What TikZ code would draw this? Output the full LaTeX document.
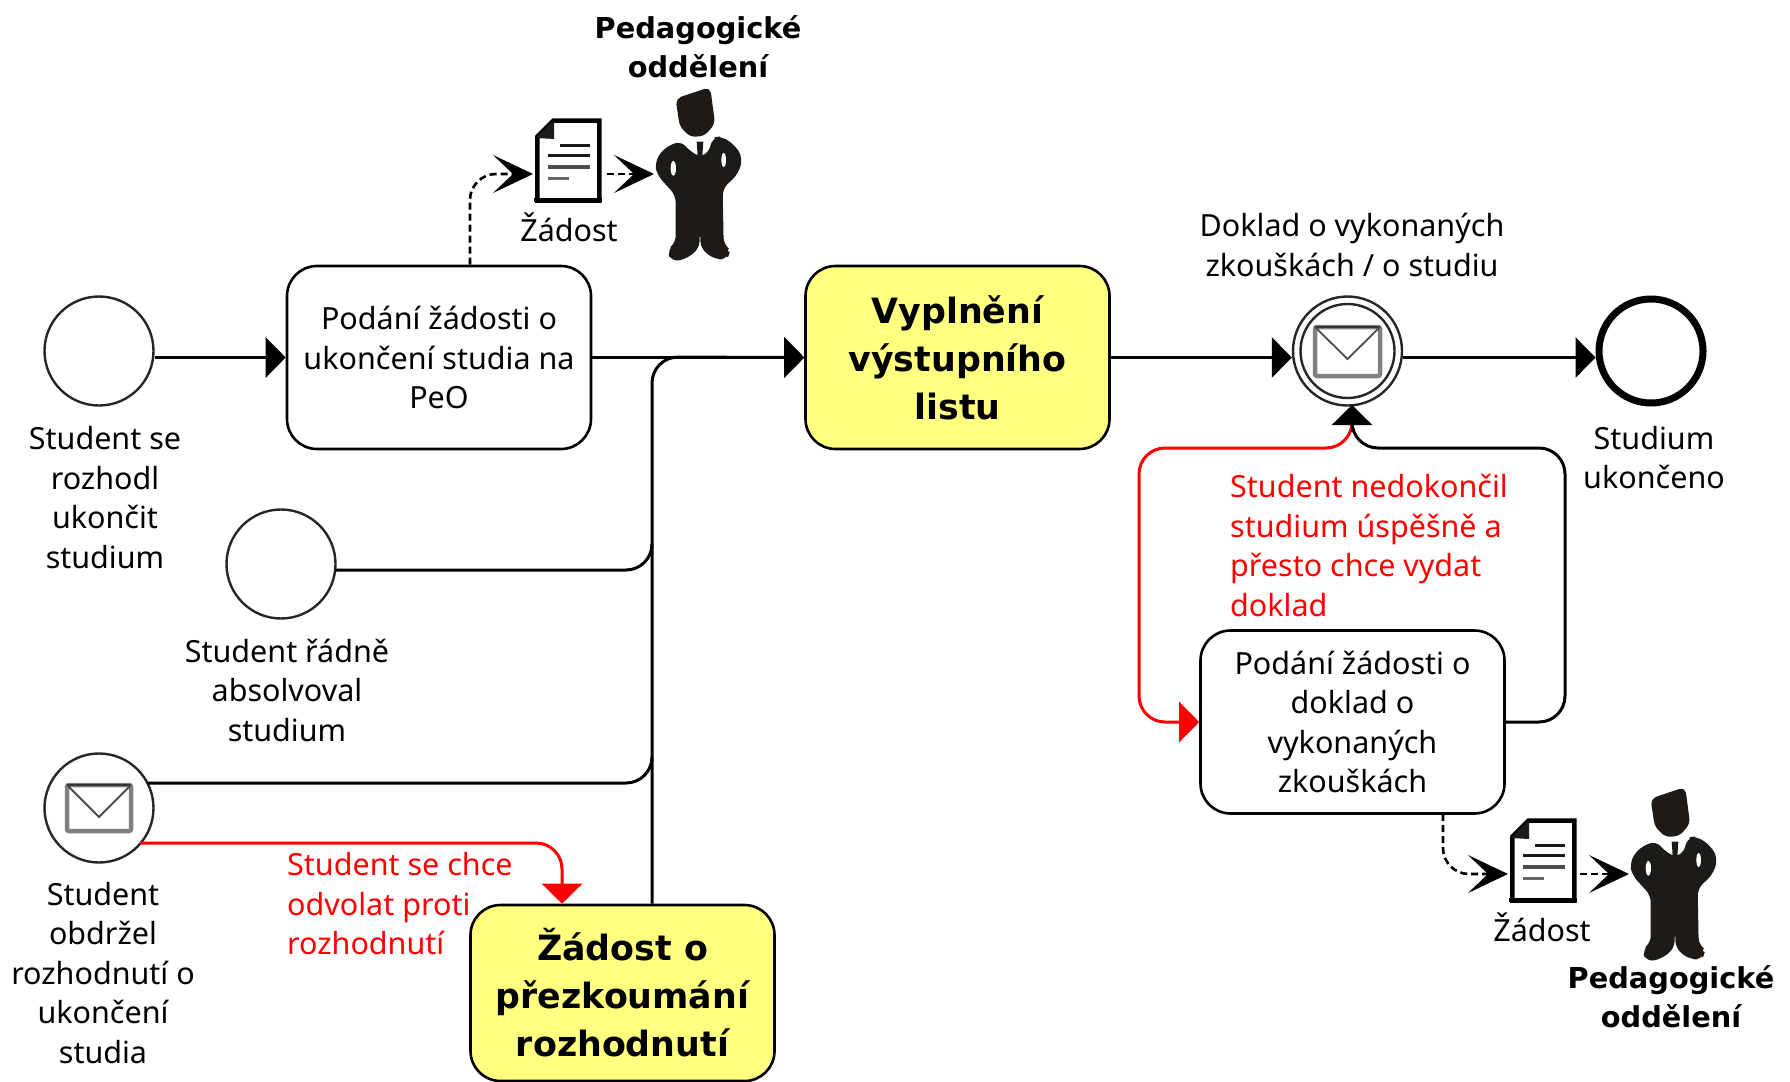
\documentclass[tikz,border=0pt]{standalone}
\usepackage{fontspec}
\setmainfont{Noto Sans}
\newfontfamily\headfont{DejaVu Sans}
\usetikzlibrary{arrows.meta,calc}
\definecolor{iconblack}{HTML}{1E1A17}
\definecolor{taskyellow}{HTML}{FFFF80}
\tikzset{
  x=1pt,y=-1pt,
  lbl/.style={inner sep=0pt,align=center,font=\fontsize{30.5}{39.5}\selectfont},
  redlbl/.style={inner sep=0pt,align=left,text=red,anchor=west,font=\fontsize{30.5}{39.5}\selectfont},
  boldlbl/.style={inner sep=0pt,align=center,font=\headfont\bfseries\fontsize{28.8}{39.5}\selectfont},
  task/.style={draw=black,line width=2.6pt,rounded corners=30pt,minimum width=304pt,minimum height=183pt,inner sep=0pt,align=center,font=\fontsize{30.5}{39.5}\selectfont,fill=white},
  calltask/.style={task,fill=taskyellow,font=\headfont\bfseries\fontsize{34.8}{48}\selectfont},
  event/.style={circle,draw=black!85,line width=2.4pt,minimum size=109pt,inner sep=0pt,fill=white},
  box/.style={inner sep=0pt,minimum width=#1,draw=none},
  flow/.style={draw=black,line width=3pt,rounded corners=26pt},
  redflow/.style={draw=red,line width=3pt,rounded corners=26pt},
  tipb/.style={-{Triangle[length=20pt,width=40pt,fill=black]}},
  tipr/.style={-{Triangle[length=20pt,width=40pt,fill=red,color=red]}},
  assoc/.style={draw=black,line width=2.6pt,dash pattern=on 7pt off 4pt,rounded corners=26pt,
     -{Stealth[length=40pt,width=38pt,inset=20pt,fill=black]}},
  env/.style={draw=black!50,line width=4.5pt,rounded corners=2pt,fill=white},
  envtop/.style={draw=black!80,line width=2.4pt},
}
\newcommand{\personicon}[2]{%
 \begin{scope}[shift={(#1,#2)},scale=1/3]
  \filldraw[iconblack,line width=2pt,rounded corners=5pt] (680,298) -- (778,265) -- (792,370) -- (762,405) -- (722,408) -- (692,378) -- cycle;
  \filldraw[iconblack,line width=2pt,rounded corners=7pt] (690,425) -- (725,462) -- (750,472) -- (778,462) -- (790,415) -- (815,412) -- (855,440) -- (875,475) -- (862,520) -- (815,565) -- (818,735) -- (838,750) -- (830,775) -- (795,775) -- (755,745) -- (750,605) -- (745,745) -- (705,775) -- (665,782) -- (655,750) -- (680,730) -- (680,585) -- (625,525) -- (617,490) -- (640,450) -- cycle;
  \fill[iconblack] (740,425) -- (760,425) -- (757,468) -- (743,468) -- cycle;
  \fill[white] (670,505) ellipse[x radius=8,y radius=22];
  \fill[white] (821,480) ellipse[x radius=7,y radius=21];
 \end{scope}}
\newcommand{\docicon}[2]{%
 \begin{scope}[shift={(#1,#2)},scale=1/3]
  \draw[black,line width=4.5pt,fill=white,line join=miter] (262,410) -- (310,362) -- (448,362) -- (448,602) -- (262,602) -- cycle;
  \fill[iconblack] (258,414) -- (312,360) -- (312,417) -- cycle;
  \draw[black,line width=3.2pt] (253,600) -- (456,600);
  \draw[black!90,line width=3pt] (330,436) -- (420,436);
  \draw[black!90,line width=3pt] (295,467) -- (420,467);
  \draw[black!70,line width=3.6pt] (295,501) -- (420,501);
  \draw[black!60,line width=3.6pt] (295,536) -- (356,536);
 \end{scope}}
\newcommand{\envicon}[4]{%
  \draw[env] (#1,#2) rectangle (#3,#4);
  \draw[envtop] (#1,#2) -- (#3,#2);
  \draw[black!70,line width=1.8pt] (#1,#2) -- ({(#1+#3)/2},{#2+32}) -- (#3,#2);}
\begin{document}
\begin{tikzpicture}
\useasboundingbox (0,0) rectangle (1790,1081);
% events
\node[event] (c1) at (99,351) {};
\node[event] (c2) at (281,564) {};
\node[event] (c3) at (99,808) {};
\node[event] (ie) at (1347.5,351) {};
\node[circle,draw=black!85,line width=2.4pt,minimum size=94pt,inner sep=0pt] (ieinner) at (ie) {};
\node[event,draw=black,line width=7pt,minimum size=104pt] (end) at (1651,351) {};
% tasks
\node[task] (t1) at (439,357.5) {Podání žádosti o\\ukončení studia na\\PeO};
\node[calltask] (y1) at (957.5,357.5) {Vyplnění\\výstupního\\listu};
\node[calltask] (y2) at (622.5,993) [minimum height=176pt] {Žádost o\\přezkoumání\\rozhodnutí};
\node[task] (t3) at (1352.5,722) {Podání žádosti o\\doklad o\\vykonaných\\zkouškách};
% icons
\envicon{1315}{327}{1380}{376}
\envicon{67}{785}{131}{831}
\docicon{450}{0}
\docicon{1425}{700}
\personicon{450}{0}
\personicon{1425}{700}
\node[box=70pt,minimum height=86pt] (d1) at (567.5,160.5) {};
\node[box=70pt,minimum height=86pt] (d2) at (1542.5,860.5) {};
\node[box=87pt,minimum height=175pt] (p1) at (698.5,175.5) {};
\node[box=87pt,minimum height=175pt] (p2) at (1673.5,875.5) {};
% helper coordinates
\coordinate (j) at (652,357);
\coordinate (b2) at (652,570);
\coordinate (b3) at (652,783);
\coordinate (a1) at (470,174);
\coordinate (d1in) at (533,174);
\coordinate (d1out) at (607,174);
\coordinate (p1in) at (654,174);
\coordinate (d2in) at (1508,874);
\coordinate (d2out) at (1580,874);
\coordinate (p2in) at (1629,874);
\coordinate (rc1) at (1139,448);
\coordinate (rc2) at (1139,722);
\coordinate (bc1) at (1565,722);
\coordinate (bc2) at (1565,448);
\coordinate (iein) at (1352,405);
% flows
\draw[flow,tipb] (c1.east |- t1.west) -- (t1.west);
\draw[flow,tipb] (t1.east) -- (y1.west);
\draw[flow,tipb] (j |- y2.north) -- (j) -- (y1.west);
\draw[flow] ($(c2.east |- b2)+(-1,0)$) -- (b2) -- ($(b2)+(0,-26)$);
\draw[flow] (147,783) -- (b3) -- ($(b3)+(0,-26)$);
\draw[flow,tipb] (y1.east) -- (ie.west |- y1.east);
\draw[flow,tipb] (ie.east |- y1.east) -- (end.west |- y1.east);
\draw[flow] (t3.east) -- (bc1) -- (bc2) -- (1352,448) -- (1352,425);
\draw[redflow,rounded corners=26pt,tipr] (1352,425) -- (1352,448) -- (rc1) -- (rc2) -- (t3.west);
\draw[flow,tipb] (1352,432) -- (iein);
\draw[redflow,tipr] (140,843) -- (562,843) -- (y2.north -| 562,843);
% associations
\draw[assoc] (a1 |- t1.north) -- (a1) -- (d1in);
\draw[assoc] (d1out) -- (p1in);
\draw[assoc] (1443,814) -- (1443,874) -- (d2in);
\draw[assoc] (d2out) -- (p2in);
% labels
\node[boldlbl] (l1) at (698,46.5) {Pedagogické\\oddělení};
\node[lbl] (l2) at (569,227) {Žádost};
\node[lbl] (l3) at (105,497.5) {Student se\\rozhodl\\ukončit\\studium};
\node[lbl] (l4) at (287,690) {Student řádně\\absolvoval\\studium};
\node[lbl] (l5) at (103,973) {Student\\obdržel\\rozhodnutí o\\ukončení\\studia};
\node[redlbl] (l6) at (287,904) {Student se chce\\odvolat proti\\rozhodnutí};
\node[lbl] (l7) at (1352,245) {Doklad o vykonaných\\zkouškách / o studiu};
\node[lbl] (l8) at (1654,457.5) {Studium\\ukončeno};
\node[redlbl] (l9) at (1230,545.5) {Student nedokončil\\studium úspěšně a\\přesto chce vydat\\doklad};
\node[lbl] (l10) at (1542,927) {Žádost};
\node[boldlbl] (l11) at (1671,996.5) {Pedagogické\\oddělení};
\end{tikzpicture}
\end{document}
